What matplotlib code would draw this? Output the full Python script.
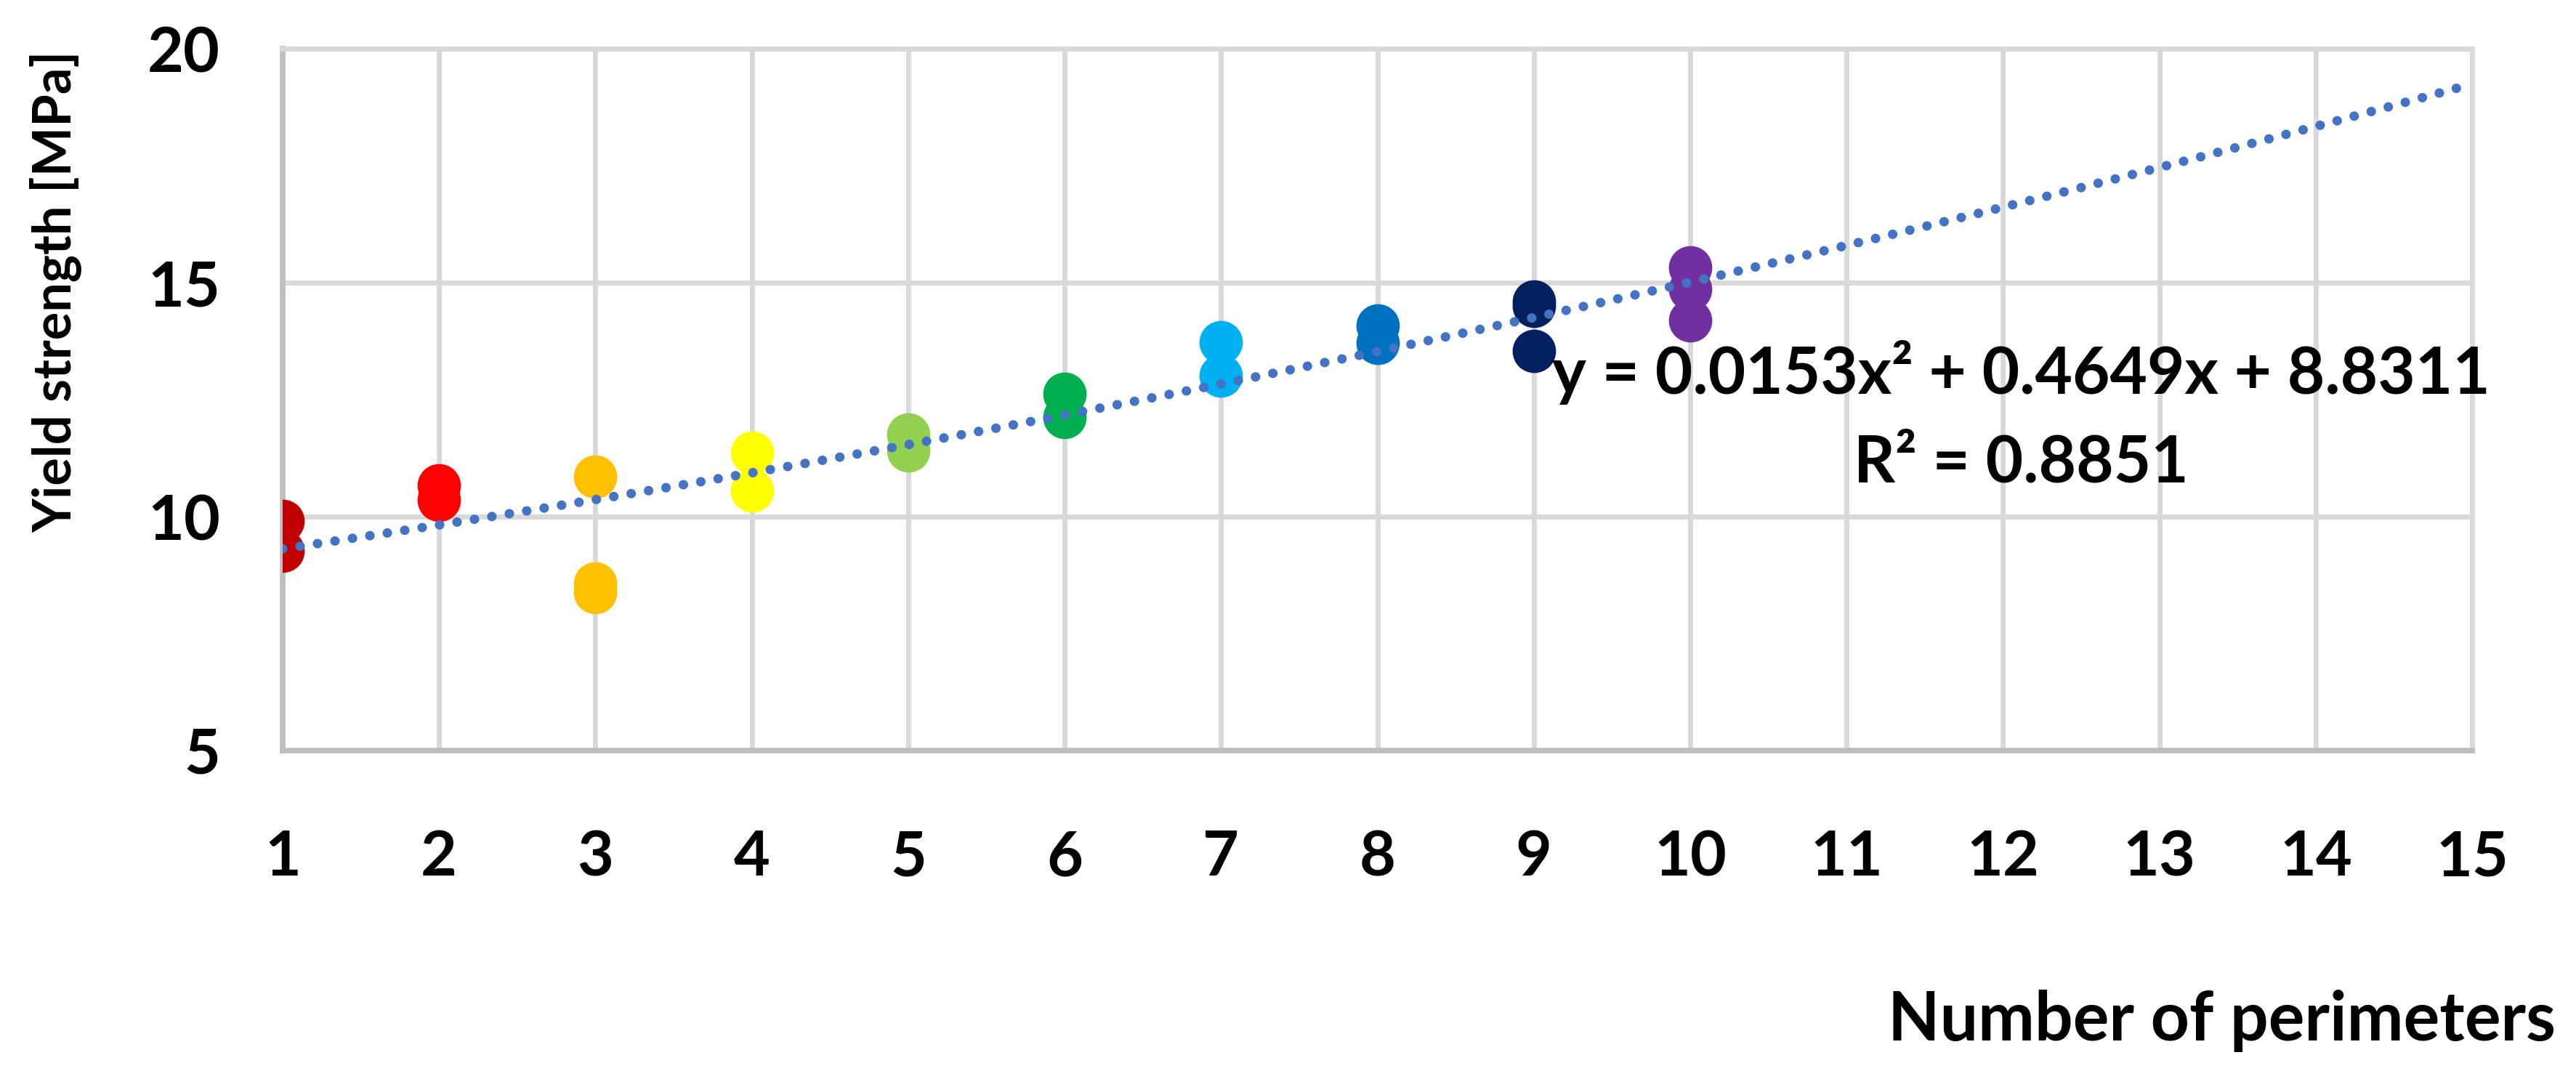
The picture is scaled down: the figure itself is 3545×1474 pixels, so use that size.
import numpy as np
import matplotlib.pyplot as plt

# measured yield strength for each number of perimeters
perimeters = [1, 2, 3, 4, 5, 6, 7, 8, 9, 10]
strength = [
    [9.91, 9.27],
    [10.67, 10.35],
    [10.86, 8.57, 8.39],
    [11.37, 10.56],
    [11.75, 11.41],
    [12.62, 12.12],
    [13.72, 13.02],
    [14.08, 13.71],
    [14.59, 14.51, 13.54],
    [15.33, 14.86, 14.19],
]
colors = ["#C00000", "#FF0000", "#FFC000", "#FFFF00", "#92D050",
          "#00B050", "#00B0F0", "#0070C0", "#002060", "#7030A0"]

# polynomial trendline reported on the chart
trend_coef = [0.0153, 0.4649, 8.8311]
trend_r2 = 0.8851

x_ticks = list(range(1, 16))
y_ticks = [5, 10, 15, 20]

plt.rcParams["font.family"] = ["Lato", "DejaVu Sans"]

fig = plt.figure(figsize=(35.45, 14.74), dpi=100)
ax = fig.add_axes([0.1097, 0.2992, 0.85, 0.6553])

for x, vals, c in zip(perimeters, strength, colors):
    ax.plot([x] * len(vals), vals, "o", color=c, markersize=43,
            markeredgewidth=0, zorder=3)

xt = np.linspace(1, 15, 300)
ax.plot(xt, np.polyval(trend_coef, xt), color="#4472C4", lw=9.4,
        linestyle=(0, (0.01, 1.85)), dash_capstyle="round", zorder=4)

ax.set_xlim(1, 15)
ax.set_ylim(5, 20)
ax.set_xticks(x_ticks)
ax.set_yticks(y_ticks)
ax.grid(True, color="#D9D9D9", lw=5, zorder=0)
ax.set_axisbelow(True)
for side in ["top", "right"]:
    ax.spines[side].set_color("#D9D9D9")
    ax.spines[side].set_linewidth(5)
for side in ["left", "bottom"]:
    ax.spines[side].set_color("#BFBFBF")
    ax.spines[side].set_linewidth(5.5)
ax.tick_params(length=0, labelsize=62)
ax.tick_params(axis="x", pad=78)
ax.tick_params(axis="y", pad=62)
for lab in ax.get_xticklabels() + ax.get_yticklabels():
    lab.set_fontweight("bold")

fig.text(0.7845, 0.6323,
         "y = %.4fx² + %.4fx + %.4f" % tuple(trend_coef),
         ha="center", va="baseline", fontsize=64, fontweight="bold")
fig.text(0.7845, 0.5502, "R² = %.4f" % trend_r2,
         ha="center", va="baseline", fontsize=64, fontweight="bold")

fig.text(0.9921, 0.0285, "Number of perimeters", ha="right", va="baseline",
         fontsize=67, fontweight="bold")
fig.text(0.0217, 0.728, "Yield strength [MPa]", ha="center", va="center",
         rotation=90, fontsize=52, fontweight="bold")

fig.savefig("out.png", dpi=100)
